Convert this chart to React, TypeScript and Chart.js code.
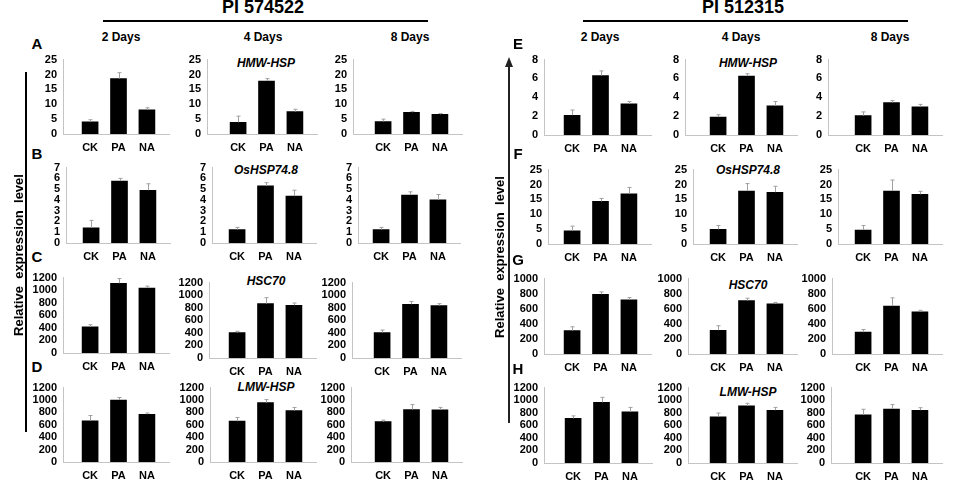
import { useEffect, useRef } from "react";
import { Chart, registerables } from "chart.js";

Chart.register(...registerables);

const FONT = '"Liberation Sans", Arial, sans-serif';

const categories = ["CK", "PA", "NA"];
const days = ["2 Days", "4 Days", "8 Days"];
const genes = ["HMW-HSP", "OsHSP74.8", "HSC70", "LMW-HSP"];
const cultivars = ["PI 574522", "PI 512315"];
const letters = [["A", "B", "C", "D"], ["E", "F", "G", "H"]];

// each inner list = one time point (2, 4, 8 days), values for CK, PA, NA
// PI 574522
const hmwA = [[4.1, 18.6, 8.1], [3.9, 17.8, 7.5], [4.2, 7.3, 6.6]];
const hmwAErr = [[0.7, 2.0, 0.7], [2.1, 0.8, 0.8], [0.8, 0.3, 0.3]];
const ospB = [[1.4, 5.75, 4.9], [1.25, 5.3, 4.35], [1.25, 4.45, 4.0]];
const ospBErr = [[0.7, 0.25, 0.6], [0.2, 0.3, 0.55], [0.2, 0.3, 0.5]];
const hscC = [[415, 1110, 1035], [405, 865, 840], [405, 855, 835]];
const hscCErr = [[35, 75, 30], [20, 95, 35], [40, 45, 30]];
const lmwD = [[665, 1000, 770], [658, 957, 830], [650, 846, 841]];
const lmwDErr = [[85, 40, 20], [60, 50, 50], [25, 80, 40]];
// PI 512315
const hmwE = [[2.1, 6.3, 3.3], [1.9, 6.25, 3.1], [2.05, 3.45, 3.0]];
const hmwEErr = [[0.55, 0.5, 0.25], [0.25, 0.25, 0.45], [0.4, 0.2, 0.25]];
const ospF = [[4.4, 14.3, 16.9], [4.9, 17.8, 17.4], [4.7, 17.8, 16.7]];
const ospFErr = [[1.6, 1.0, 2.1], [1.3, 2.5, 2.0], [1.5, 3.7, 1.0]];
const hscG = [[311, 793, 718], [315, 710, 664], [290, 635, 560]];
const hscGErr = [[50, 30, 30], [60, 30, 20], [35, 110, 20]];
const lmwH = [[710, 965, 815], [735, 910, 840], [765, 860, 840]];
const lmwHErr = [[40, 80, 70], [60, 40, 45], [90, 70, 40]];

const yMaxLeft = [25, 7, 1200, 1200];
const yStepLeft = [5, 1, 200, 200];
const yMaxRight = [8, 25, 1000, 1200];
const yStepRight = [2, 5, 200, 200];

const seriesLeft = [hmwA, ospB, hscC, lmwD];
const errLeft = [hmwAErr, ospBErr, hscCErr, lmwDErr];
const seriesRight = [hmwE, ospF, hscG, lmwH];
const errRight = [hmwEErr, ospFErr, hscGErr, lmwHErr];

// page layout (pixels): y-axis x, CK bar centre, top tick, zero line
type RowLayout = { axis: number[]; ck: number[]; top: number[]; zero: number[] };
const layoutLeft: RowLayout[] = [
  { axis: [63, 207, 353], ck: [90, 238, 383], top: [55, 55, 55], zero: [134, 134, 134] },
  { axis: [66, 212, 358], ck: [91, 237, 381], top: [163, 163, 163], zero: [243, 243, 243] },
  { axis: [63, 209, 352], ck: [90, 237, 382], top: [273, 278, 278], zero: [353, 358, 358] },
  { axis: [63, 210, 351], ck: [90, 237, 383], top: [383, 383, 383], zero: [462, 462, 462] },
];
const layoutRight: RowLayout[] = [
  { axis: [544, 685, 828], ck: [572, 718, 863], top: [55, 55, 55], zero: [135, 135, 135] },
  { axis: [548, 693, 838], ck: [572, 718, 863], top: [165, 165, 165], zero: [244, 244, 244] },
  { axis: [544, 688, 832], ck: [572, 718, 863], top: [274, 274, 274], zero: [354, 354, 354] },
  { axis: [544, 688, 831], ck: [573, 718, 863], top: [383, 383, 383], zero: [463, 463, 463] },
];

const LW = 40; // room for y tick labels
const PT = 8;
const XH = 24;
const PR = 4;
const STEP = 28.3; // px between bars
const TAIL = 22;

const errorBars = {
  id: "errorBars",
  afterDatasetsDraw(chart: any, _args: any, opts: any) {
    const { ctx, scales } = chart;
    const errs: number[] = opts.values || [];
    const meta = chart.getDatasetMeta(0);
    const data = chart.data.datasets[0].data as { x: number; y: number }[];
    ctx.save();
    ctx.strokeStyle = "#a0a0a0";
    ctx.lineWidth = 1;
    meta.data.forEach((bar: any, i: number) => {
      const top = scales.y.getPixelForValue(data[i].y + errs[i]);
      const x = Math.round(bar.x) + 0.5;
      ctx.beginPath();
      ctx.moveTo(x, bar.y);
      ctx.lineTo(x, top);
      ctx.moveTo(x - 2, top);
      ctx.lineTo(x + 2, top);
      ctx.stroke();
    });
    ctx.restore();
  },
};

interface PanelProps {
  values: number[];
  errs: number[];
  yMax: number;
  yStep: number;
  axis: number;
  ck: number;
  top: number;
  zero: number;
}

const Panel = ({ values, errs, yMax, yStep, axis, ck, top, zero }: PanelProps) => {
  const canvasRef = useRef<HTMLCanvasElement | null>(null);
  const plotW = ck + 2 * STEP + TAIL - axis;
  const width = Math.round(LW + plotW + PR);
  const height = PT + (zero - top) + XH;
  const xMin = -(ck - axis) / STEP;
  const xMax = xMin + plotW / STEP;

  useEffect(() => {
    const ctx = canvasRef.current?.getContext("2d");
    if (!ctx) return;
    const tickFont = { family: FONT, size: 11, weight: "bold" as const };
    const chart = new Chart(ctx, {
      type: "bar",
      data: {
        datasets: [
          {
            data: values.map((v, i) => ({ x: i, y: v })),
            backgroundColor: "#000",
            borderWidth: 0,
            barThickness: 16,
          },
        ],
      },
      options: {
        animation: false,
        responsive: false,
        maintainAspectRatio: false,
        layout: { padding: { top: PT, right: PR, left: 0, bottom: 0 } },
        plugins: {
          legend: { display: false },
          tooltip: { enabled: false },
          errorBars: { values: errs },
        } as any,
        scales: {
          x: {
            type: "linear",
            offset: false,
            min: xMin,
            max: xMax,
            grid: { display: false, drawTicks: false, offset: false },
            border: { color: "#c4c4c4", width: 1 },
            afterBuildTicks: (s: any) => {
              s.ticks = categories.map((_, i) => ({ value: i }));
            },
            afterFit: (s: any) => {
              s.height = XH;
            },
            ticks: {
              callback: (v: any) => categories[v as number] ?? "",
              font: tickFont,
              color: "#000",
              padding: 7,
              autoSkip: false,
              maxRotation: 0,
            },
          },
          y: {
            min: 0,
            max: yMax,
            grid: { display: false, drawTicks: false },
            border: { color: "#c4c4c4", width: 1 },
            afterFit: (s: any) => {
              s.width = LW;
            },
            ticks: {
              stepSize: yStep,
              autoSkip: false,
              callback: (v: any) => String(v),
              font: tickFont,
              color: "#000",
              padding: 6,
            },
          },
        },
      },
      plugins: [errorBars],
    });
    return () => chart.destroy();
  }, [values, errs, yMax, yStep, xMin, xMax]);

  return (
    <canvas
      ref={canvasRef}
      width={width}
      height={height}
      style={{ position: "absolute", left: axis - LW, top: top - PT, width, height }}
    />
  );
};

const Text = ({ x, y, children, style }: { x: number; y: number; children: any; style?: any }) => (
  <div
    style={{
      position: "absolute",
      left: x,
      top: y,
      transform: "translate(-50%, -50%)",
      whiteSpace: "pre",
      fontFamily: FONT,
      fontWeight: "bold",
      lineHeight: 1,
      color: "#000",
      ...style,
    }}
  >
    {children}
  </div>
);

const App = () => {
  const groups = [
    { series: seriesLeft, errs: errLeft, yMax: yMaxLeft, yStep: yStepLeft, layout: layoutLeft, dx: 0 },
    { series: seriesRight, errs: errRight, yMax: yMaxRight, yStep: yStepRight, layout: layoutRight, dx: 480 },
  ];
  const dayX = [[121, 263, 410], [600, 741, 890]];
  const geneY = [[63, 170, 281, 387], [63, 170, 285, 392]];
  const letterY = [[43, 153, 256, 366], [43, 153, 259, 368]];

  return (
    <div style={{ position: "absolute", left: 0, top: 0, width: 964, height: 486, background: "#fff", overflow: "hidden" }}>
      {groups.map((g, gi) => (
        <div key={cultivars[gi]}>
          <Text x={263 + g.dx} y={7} style={{ fontSize: 18 }}>
            {cultivars[gi]}
          </Text>
          <div style={{ position: "absolute", left: 103 + g.dx, top: 20, width: 325, height: 2, background: "#000" }} />
          {days.map((d, di) => (
            <Text key={d} x={dayX[gi][di]} y={37} style={{ fontSize: 12 }}>
              {d}
            </Text>
          ))}
          {letters[gi].map((l, li) => (
            <Text key={l} x={37 + g.dx + (gi ? 1 : 0)} y={letterY[gi][li]} style={{ fontSize: 15 }}>
              {l}
            </Text>
          ))}
          {genes.map((gene, ri) => (
            <Text key={gene} x={gi ? 748 : 266} y={geneY[gi][ri]} style={{ fontSize: 12, fontStyle: "italic" }}>
              {gene}
            </Text>
          ))}
          {g.series.map((rows, ri) =>
            rows.map((vals, ci) => (
              <Panel
                key={`${gi}-${ri}-${ci}`}
                values={vals}
                errs={g.errs[ri][ci]}
                yMax={g.yMax[ri]}
                yStep={g.yStep[ri]}
                axis={g.layout[ri].axis[ci]}
                ck={g.layout[ri].ck[ci]}
                top={g.layout[ri].top[ci]}
                zero={g.layout[ri].zero[ci]}
              />
            ))
          )}
        </div>
      ))}

      {/* y-axis titles */}
      <Text x={18} y={255} style={{ fontSize: 13, transform: "translate(-50%, -50%) rotate(-90deg)" }}>
        {"Relative  expression  level"}
      </Text>
      <div style={{ position: "absolute", left: 25, top: 72, width: 2, height: 360, background: "#000" }} />

      <Text x={499} y={257} style={{ fontSize: 13, transform: "translate(-50%, -50%) rotate(-90deg)" }}>
        {"Relative  expression  level"}
      </Text>
      <div style={{ position: "absolute", left: 508, top: 66, width: 2, height: 357, background: "#222" }} />
      <div
        style={{
          position: "absolute",
          left: 505,
          top: 57,
          width: 0,
          height: 0,
          borderLeft: "4px solid transparent",
          borderRight: "4px solid transparent",
          borderBottom: "10px solid #222",
        }}
      />
    </div>
  );
};

export default App;
